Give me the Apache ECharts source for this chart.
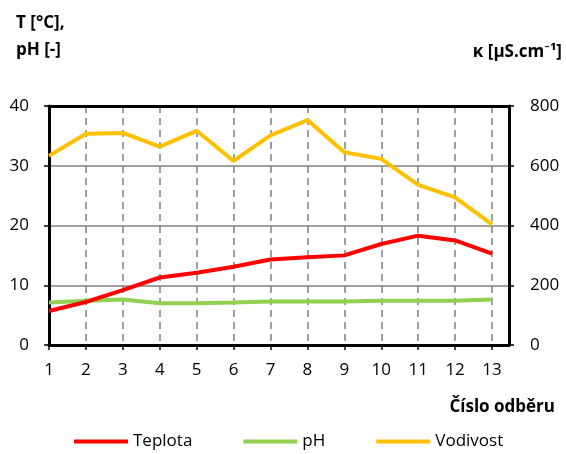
<!DOCTYPE html>
<html><head><meta charset="utf-8">
<script src="https://cdn.jsdelivr.net/npm/echarts@6/dist/echarts.min.js"></script>
<style>html,body{margin:0;padding:0;background:#fff}#c{width:566px;height:454px}</style>
</head><body><div id="c"></div>
<script>
const samples = [1,2,3,4,5,6,7,8,9,10,11,12,13];
const teplota = [5.7,7.2,9.2,11.3,12.1,13.1,14.3,14.7,15.0,16.9,18.3,17.5,15.3];
const ph = [7.1,7.4,7.6,7.0,7.0,7.1,7.3,7.3,7.3,7.4,7.4,7.4,7.6];
const vodivost = [633,707,710,664,717,616,702,753,645,623,536,494,404];
const leftTicks = [0,10,20,30,40];
const rightTicks = [0,200,400,600,800];

const font = '"Open Sans", Lato, sans-serif';
const pair = (xs, ys) => xs.map((x, i) => [x, ys[i]]);

const chart = echarts.init(document.getElementById('c'), null, {renderer: 'canvas'});
chart.setOption({
  animation: false,
  textStyle: {fontFamily: font},
  grid: {left: 49, right: 57, top: 106, bottom: 109, containLabel: false},
  xAxis: [{
    type: 'value', min: 1, max: 13.46, interval: 1, position: 'bottom',
    axisLine: {show: true, onZero: false, lineStyle: {color: '#000', width: 3}},
    axisTick: {show: true, inside: false, length: 5, lineStyle: {color: '#000', width: 1.5}},
    axisLabel: {color: '#000', fontSize: 17, fontFamily: font, margin: 17, showMaxLabel: false},
    splitLine: {show: true, lineStyle: {color: '#808080', width: 1.5, type: [7, 5]}}
  }, {
    type: 'value', min: 1, max: 13.46, interval: 1, position: 'top',
    axisLine: {show: true, onZero: false, lineStyle: {color: '#000', width: 3}},
    axisTick: {show: false}, axisLabel: {show: false}, splitLine: {show: false}
  }],
  yAxis: [{
    type: 'value', min: 0, max: 40, interval: 10, position: 'left',
    axisLine: {show: true, onZero: false, lineStyle: {color: '#000', width: 3}},
    axisTick: {show: true, length: 5, lineStyle: {color: '#000', width: 1.5}},
    axisLabel: {color: '#000', fontSize: 17, fontFamily: font, margin: 20,
      formatter: v => leftTicks.includes(v) ? String(v) : ''},
    splitLine: {show: true, lineStyle: {color: '#808080', width: 1.5}}
  }, {
    type: 'value', min: 0, max: 800, interval: 200, position: 'right',
    axisLine: {show: true, onZero: false, lineStyle: {color: '#000', width: 3}},
    axisTick: {show: true, length: 5, lineStyle: {color: '#000', width: 1.5}},
    axisLabel: {color: '#000', fontSize: 17, fontFamily: font, margin: 21,
      formatter: v => rightTicks.includes(v) ? String(v) : ''},
    splitLine: {show: false}
  }],
  legend: {
    left: 74, top: 433, padding: 0, itemWidth: 54, itemHeight: 4, itemGap: 51,
    icon: 'rect',
    textStyle: {color: '#000', fontSize: 17, fontFamily: font},
    data: ['Teplota', 'pH', 'Vodivost']
  },
  series: [
    {name: 'Teplota', type: 'line', xAxisIndex: 0, yAxisIndex: 0, data: pair(samples, teplota),
      symbol: 'none', lineStyle: {color: '#FF0000', width: 4}, itemStyle: {color: '#FF0000'}, z: 4},
    {name: 'pH', type: 'line', xAxisIndex: 0, yAxisIndex: 0, data: pair(samples, ph),
      symbol: 'none', lineStyle: {color: '#92D050', width: 4}, itemStyle: {color: '#92D050'}, z: 3},
    {name: 'Vodivost', type: 'line', xAxisIndex: 0, yAxisIndex: 1, data: pair(samples, vodivost),
      symbol: 'none', lineStyle: {color: '#FFC000', width: 4}, itemStyle: {color: '#FFC000'}, z: 3}
  ],
  graphic: [
    {type: 'text', left: 16, top: 15, style: {text: 'T [°C],', fill: '#000', font: 'bold 17px ' + font}},
    {type: 'text', left: 16, top: 42, style: {text: 'pH [-]', fill: '#000', font: 'bold 17px ' + font}},
    {type: 'text', right: 4, top: 44, style: {text: 'κ [µS.cm⁻¹]', fill: '#000', font: 'bold 17px ' + font}},
    {type: 'text', right: 11, top: 399, style: {text: 'Číslo odběru', fill: '#000', font: 'bold 17px ' + font}}
  ]
});
</script></body></html>
